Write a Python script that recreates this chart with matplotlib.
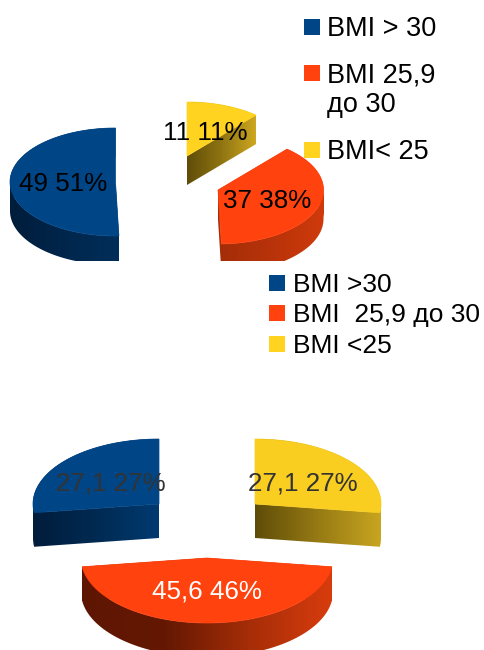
import matplotlib
matplotlib.use("Agg")
import matplotlib.pyplot as plt
import numpy as np
from matplotlib.colors import LinearSegmentedColormap
from matplotlib.patches import PathPatch, Polygon, Rectangle
from matplotlib.path import Path

plt.rcParams["font.family"] = ["Liberation Sans", "DejaVu Sans"]

W, H = 484, 650
SPLIT_Y = 261

# data
values_top = [49, 37, 11]
values_bottom = [27.1, 45.6, 27.1]
legend_top = ["BMI > 30", "BMI 25,9\nдо 30", "BMI< 25"]
legend_bottom = ["BMI >30", "BMI  25,9 до 30", "BMI <25"]

colors = ["#004586", "#ff420e", "#ffd320"]
yellow_bottom = "#f9ce20"


def fmt(v):
    return f"{v:g}".replace(".", ",")


def wedge_outline(cx, cy, rx, ry, a0, a1, n=120):
    """Top face of one slice, angles in degrees counter-clockwise from east."""
    t = np.radians(np.linspace(a0, a1, n))
    x = cx + rx * np.cos(t)
    y = cy - ry * np.sin(t)
    return np.r_[cx, x], np.r_[cy, y]


def side_path(x, y, depth):
    # the extruded rim, every quad wound the same way so the union fills solid
    verts, codes = [], []
    for i in range(len(x)):
        j = (i + 1) % len(x)
        quad = [(x[i], y[i]), (x[j], y[j]), (x[j], y[j] + depth), (x[i], y[i] + depth)]
        if x[j] < x[i]:
            quad = quad[::-1]
        verts += quad + [quad[0]]
        codes += [Path.MOVETO, Path.LINETO, Path.LINETO, Path.LINETO, Path.CLOSEPOLY]
    return Path(verts, codes)


def draw_slice(ax, x, y, depth, face, side_stops):
    cmap = LinearSegmentedColormap.from_list("side", side_stops)
    x0, x1 = x.min(), x.max()
    y0, y1 = y.min(), y.max() + depth
    im = ax.imshow(np.linspace(0, 1, 256)[None, :], cmap=cmap, extent=(x0, x1, y1, y0),
                   aspect="auto", interpolation="bilinear", zorder=2)
    clip = PathPatch(side_path(x, y, depth), transform=ax.transData)
    im.set_clip_path(clip)
    ax.add_patch(Polygon(np.c_[x, y], closed=True, facecolor=face, edgecolor=face,
                         linewidth=0.5, zorder=3))


def draw_pie(ax, values, apexes, rx, ry, depth, faces, sides):
    total = sum(values)
    start = 90.0
    for v, (cx, cy), face, stops in zip(values, apexes, faces, sides):
        sweep = 360.0 * v / total
        x, y = wedge_outline(cx, cy, rx, ry, start, start + sweep)
        draw_slice(ax, x, y, depth, face, stops)
        start += sweep


def draw_labels(ax, values, spots, text_colors):
    total = sum(values)
    for v, (x, y), c in zip(values, spots, text_colors):
        ax.text(x, y, f"{fmt(v)} {100 * v / total:.0f}%", ha="center", va="center",
                fontsize=18.7, color=c, zorder=5)


def draw_legend(ax, labels, rows, box_x, text_x, size):
    for label, base, c in zip(labels, rows, colors):
        ax.add_patch(Rectangle((box_x, base - 17), 16, 16, facecolor=c, edgecolor="none", zorder=4))
        first, *rest = label.split("\n")
        ax.text(text_x, base, first, fontsize=size, va="baseline", color="black", zorder=5)
        for k, line in enumerate(rest):
            ax.text(text_x, base + 30 * (k + 1), line, fontsize=size, va="baseline", color="black", zorder=5)


fig = plt.figure(figsize=(W / 100, H / 100), dpi=100, facecolor="white")

# the two charts are stacked, each one cut off by its own axes
ax_top = fig.add_axes([0, 1 - SPLIT_Y / H, 1, SPLIT_Y / H])
ax_bottom = fig.add_axes([0, 0, 1, 1 - SPLIT_Y / H])

draw_pie(
    ax_top, values_top,
    apexes=[(115.5, 182), (218, 190), (187, 156)],
    rx=105.5, ry=54, depth=29,
    faces=colors,
    sides=[["#001d3b", "#00264c", "#002e59"],
           ["#a32d08", "#b8330a", "#cf3a0c"],
           ["#5f4c08", "#8f7412", "#cda820"]],
)
draw_labels(ax_top, values_top, [(63, 184), (267, 201), (205, 133)], ["#000000"] * 3)
draw_legend(ax_top, legend_top, [36, 82, 159], 304, 327, 19.5)

draw_pie(
    ax_bottom, values_bottom,
    apexes=[(159, 504), (207, 558), (255, 504)],
    rx=126, ry=65, depth=34,
    faces=[colors[0], colors[1], yellow_bottom],
    sides=[["#001d3b", "#002a52", "#003a70"],
           ["#5e1602", "#641803", "#a52d08", "#d83c0d"],
           ["#5f4c08", "#967a14", "#c8a520"]],
)
draw_labels(ax_bottom, values_bottom, [(111, 484), (207, 592), (302.5, 484)],
            ["#333333", "#ffffff", "#333333"])
draw_legend(ax_bottom, legend_bottom, [292, 322, 353], 269, 293, 19)

# imshow resets the limits, so they are fixed once the slices are in
ax_top.set_xlim(0, W)
ax_top.set_ylim(SPLIT_Y, 0)
ax_bottom.set_xlim(0, W)
ax_bottom.set_ylim(H, SPLIT_Y)
for ax in (ax_top, ax_bottom):
    ax.axis("off")

fig.savefig("out.png", dpi=100)
